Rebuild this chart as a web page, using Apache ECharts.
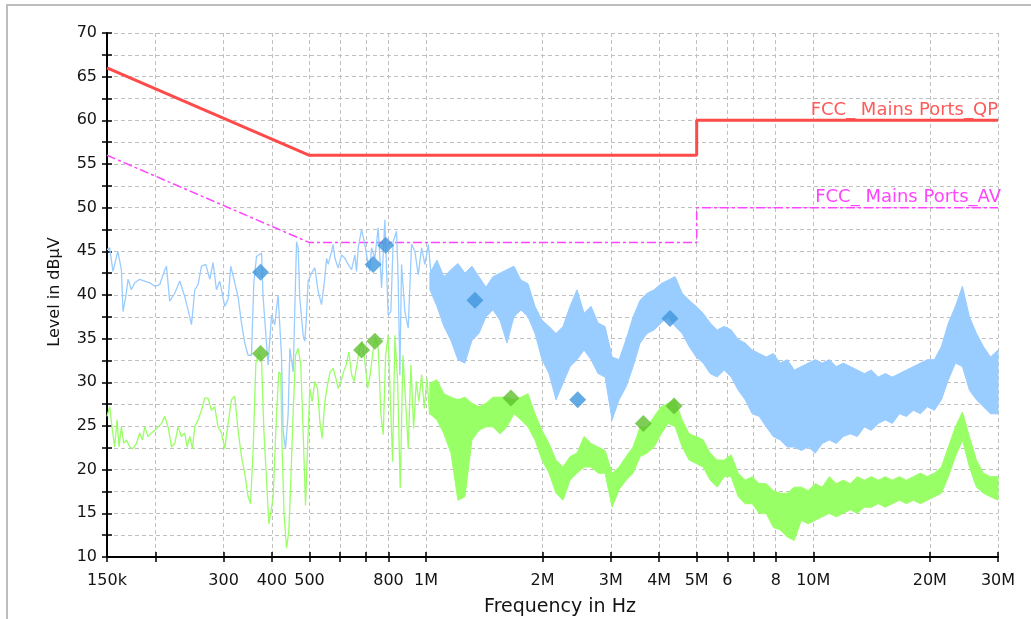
<!DOCTYPE html>
<html>
<head>
<meta charset="utf-8">
<script src="https://cdn.jsdelivr.net/npm/echarts@6/dist/echarts.min.js"></script>
<style>
  html, body { margin: 0; padding: 0; background: #fff; }
  #main { width: 1031px; height: 619px; }
</style>
</head>
<body>
<div id="main"></div>
<script>
// frequencies in MHz, levels in dBuV
var xTickValues = [0.15, 0.2, 0.3, 0.4, 0.5, 0.6, 0.7, 0.8, 1, 2, 3, 4, 5, 6, 7, 8, 10, 20, 30];
var xLabelValues = [0.15, 0.3, 0.4, 0.5, 0.8, 1, 2, 3, 4, 5, 6, 8, 10, 20, 30];
var xLabelTexts = ['150k', '300', '400', '500', '800', '1M', '2M', '3M', '4M', '5M', '6', '8', '10M', '20M', '30M'];

// FCC limit lines
var limitFreq = [0.15, 0.5, 5, 5, 30];
var qpLimit = [66, 56, 56, 60, 60];
var avLimit = [56, 46, 46, 50, 50];

// peak trace, low band (single line)
var peakFreq = [0.150, 0.1524, 0.1554, 0.157, 0.160, 0.1634, 0.165, 0.1677, 0.170, 0.1734, 0.1769, 0.1822, 0.1877, 0.1934, 0.1993,
  0.2053, 0.2115, 0.2136, 0.2178, 0.2244, 0.2313, 0.2382, 0.2429, 0.2479, 0.2528, 0.2578, 0.2631, 0.2698, 0.2764, 0.2818,
  0.2876, 0.2933, 0.3021, 0.3082, 0.3131, 0.3207, 0.3270, 0.3337, 0.3403, 0.3471, 0.3542, 0.3591, 0.3649, 0.3706, 0.3760,
  0.3795, 0.3850, 0.3909, 0.399, 0.4069, 0.4149, 0.4233, 0.4275, 0.4336, 0.4404, 0.445, 0.4539, 0.4630, 0.4674, 0.472,
  0.4815, 0.4864, 0.4913, 0.4960, 0.5061, 0.5162, 0.5266, 0.5372, 0.5478, 0.5535, 0.5590, 0.5702, 0.5756, 0.5817, 0.5932,
  0.6051, 0.6171, 0.6295, 0.6423, 0.6551, 0.6615, 0.6682, 0.6815, 0.6950, 0.7087, 0.716, 0.7233, 0.7376, 0.7523, 0.7677,
  0.7829, 0.7983, 0.8113, 0.8224, 0.8392, 0.8475, 0.8559, 0.8645, 0.8817, 0.8995, 0.9175, 0.9359, 0.9547, 0.9739, 0.9931,
  1.0135, 1.034];
var peakLevel = [45.2, 45.4, 42.7, 42.5, 45.0, 42.9, 38.1, 39.8, 41.8, 40.6, 41.4, 41.8, 41.6, 41.4, 41.0,
  41.2, 42.9, 43.3, 39.3, 40.2, 41.6, 39.8, 38.3, 36.6, 40.6, 41.2, 43.3, 43.5, 41.8, 43.7,
  40.6, 41.6, 38.7, 39.5, 43.3, 41.4, 39.8, 36.8, 34.5, 33.1, 33.1, 41.4, 44.4, 44.6, 44.8,
  39.8, 36.0, 32.0, 37.7, 36.6, 40.0, 33.1, 24.4, 22.4, 26.3, 33.9, 31.2, 46.1, 45.4, 39.6,
  35.4, 34.7, 37.7, 41.6, 42.5, 43.1, 40.4, 38.9, 41.9, 44.2, 43.5, 45.0, 45.8, 44.2, 43.1,
  44.6, 44.2, 43.5, 42.9, 44.6, 42.7, 45.4, 47.5, 45.8, 43.5, 42.7, 45.4, 44.2, 47.7, 40.8,
  48.6, 37.7, 38.1, 46.1, 47.3, 41.6, 30.8, 43.5, 38.1, 36.2, 45.8, 45.0, 42.3, 45.4, 43.5,
  45.8, 41.6];

// average trace, low band (single line)
var avgFreq = [0.150, 0.1524, 0.1549, 0.157, 0.1592, 0.1611, 0.1634, 0.1657, 0.1684, 0.1717, 0.1751, 0.1787, 0.1822, 0.1852, 0.1877,
  0.1915, 0.1954, 0.1993, 0.2032, 0.2074, 0.2115, 0.2157, 0.2201, 0.2244, 0.2289, 0.2335, 0.2382, 0.2414, 0.2454, 0.2493,
  0.2528, 0.2578, 0.2631, 0.2682, 0.2735, 0.2791, 0.2847, 0.2903, 0.2963, 0.3021, 0.3082, 0.3144, 0.3207, 0.3270, 0.3337,
  0.3403, 0.3471, 0.3522, 0.3577, 0.3635, 0.3700, 0.3760, 0.3812, 0.3874, 0.3927, 0.3973, 0.4027, 0.4110, 0.4166, 0.4216,
  0.4249, 0.4300, 0.4362, 0.4422, 0.4474, 0.4536, 0.4601, 0.4674, 0.4749, 0.4815, 0.4884, 0.4942, 0.5010, 0.5079, 0.5162,
  0.5246, 0.5319, 0.5391, 0.5479, 0.5567, 0.5654, 0.5756, 0.5849, 0.5930, 0.6026, 0.6124, 0.6219, 0.6320, 0.6423, 0.6523,
  0.6629, 0.6736, 0.6841, 0.6950, 0.7065, 0.7175, 0.7291, 0.7409, 0.7523, 0.7647, 0.7752, 0.7863, 0.7983, 0.8115, 0.8198,
  0.8311, 0.8446, 0.8577, 0.8716, 0.8857, 0.8996, 0.9141, 0.9290, 0.9435, 0.9588, 0.9743, 0.9895, 1.0055, 1.0218];
var avgLevel = [26.1, 27.2, 24.5, 22.6, 25.7, 22.6, 24.9, 23.0, 23.4, 22.6, 22.4, 23.0, 24.2, 23.4, 24.9,
  23.8, 24.2, 24.5, 24.9, 25.3, 26.1, 24.9, 22.6, 23.0, 24.9, 23.8, 24.2, 22.6, 23.8, 22.4,
  24.9, 25.7, 26.8, 28.2, 28.2, 26.8, 27.2, 24.9, 24.2, 22.4, 25.3, 28.0, 28.4, 24.5, 21.5,
  19.6, 16.9, 16.1, 22.3, 32.2, 33.3, 32.6, 24.5, 18.8, 13.8, 14.0, 16.7, 26.3, 31.2, 30.9,
  22.4, 14.8, 11.0, 12.9, 18.6, 26.3, 33.1, 33.9, 32.0, 24.4, 15.9, 22.4, 29.3, 27.8, 30.1,
  29.3, 25.5, 23.6, 27.8, 29.7, 31.2, 31.6, 30.5, 29.3, 30.1, 31.2, 32.0, 33.5, 30.9, 30.1,
  32.0, 33.9, 34.7, 32.4, 29.3, 30.9, 33.5, 35.1, 33.9, 26.3, 24.0, 33.1, 35.4, 26.3, 20.9,
  35.4, 30.1, 17.9, 33.1, 27.8, 22.4, 32.0, 24.7, 30.1, 27.8, 30.9, 27.0, 30.5, 26.3];

// upper band (dense sweep): min / max envelope per bin
var bandFreq = [1.0234, 1.0669, 1.1123, 1.1596, 1.2089, 1.2604, 1.3140, 1.3699, 1.4282, 1.4889,
  1.5523, 1.6183, 1.6872, 1.7590, 1.8338, 1.9118, 1.9932, 2.0780, 2.1664, 2.2586,
  2.3547, 2.4548, 2.5593, 2.6682, 2.7817, 2.9000, 3.0234, 3.1521, 3.2862, 3.4260,
  3.5718, 3.7237, 3.8821, 4.0473, 4.2195, 4.3990, 4.5862, 4.7813, 4.9847, 5.1968,
  5.4179, 5.6484, 5.8887, 6.1393, 6.4005, 6.6728, 6.9567, 7.2527, 7.5613, 7.8830,
  8.2184, 8.5680, 8.9326, 9.3126, 9.7088, 10.122, 10.553, 11.001, 11.469, 11.957,
  12.466, 12.996, 13.549, 14.126, 14.727, 15.353, 16.006, 16.687, 17.397, 18.138,
  18.909, 19.714, 20.553, 21.427, 22.339, 23.289, 24.280, 25.313, 26.390, 27.513,
  28.684, 30.0];
var peakHi = [42.5, 44.0, 42.1, 42.9, 43.6, 42.5, 43.3, 42.1, 40.9, 42.1, 42.5, 42.9, 43.3, 41.7, 41.3, 38.7, 37.1, 36.4, 35.6, 36.4,
  38.7, 40.6, 37.9, 38.7, 36.8, 36.4, 32.9, 32.6, 34.9, 37.5, 39.4, 40.2, 40.6, 41.3, 41.7, 42.1, 40.2, 39.4, 38.7, 37.9,
  36.8, 36.0, 36.4, 36.0, 34.9, 34.5, 33.7, 33.3, 32.9, 33.3, 32.2, 32.6, 31.4, 31.8, 32.2, 32.6, 32.2, 32.6, 31.8, 32.2,
  31.8, 31.4, 31.0, 31.4, 30.6, 31.0, 30.6, 31.0, 31.4, 31.8, 32.2, 32.6, 32.6, 34.1, 36.8, 38.7, 41.0, 37.5, 35.6, 34.1,
  32.9, 33.7];
var peakLo = [40.6, 38.7, 36.4, 34.8, 32.6, 32.2, 34.8, 35.6, 37.5, 38.3, 37.1, 34.5, 37.5, 38.3, 37.5, 35.6, 32.6, 31.0, 28.0, 29.9,
  31.8, 32.6, 33.7, 32.6, 31.0, 30.6, 25.7, 28.0, 29.5, 31.8, 34.5, 35.6, 36.0, 36.8, 37.5, 36.4, 35.6, 34.1, 32.9, 32.2,
  31.0, 30.6, 31.4, 30.6, 29.1, 28.0, 26.4, 26.1, 24.9, 23.8, 23.4, 22.6, 22.6, 22.2, 22.6, 21.9, 23.0, 23.4, 23.0, 23.8,
  24.1, 23.8, 24.9, 24.5, 25.3, 25.7, 25.3, 26.4, 26.1, 26.8, 26.4, 27.2, 26.8, 28.0, 30.3, 32.2, 31.8, 29.1, 28.0, 27.2,
  26.4, 26.4];
var avgHi = [29.9, 30.3, 28.7, 28.3, 28.0, 28.3, 27.6, 27.2, 27.6, 28.3, 28.3, 28.3, 28.0, 28.3, 28.7, 26.4, 24.5, 23.0, 21.1, 20.3,
  21.5, 21.9, 23.8, 23.0, 22.6, 22.2, 19.6, 20.3, 21.5, 22.6, 24.9, 24.9, 26.1, 27.2, 27.6, 28.0, 25.7, 24.1, 23.8, 23.4,
  21.9, 21.1, 21.1, 21.7, 19.6, 18.8, 19.2, 18.4, 18.4, 17.6, 17.3, 17.3, 18.0, 18.0, 17.6, 18.4, 18.0, 19.2, 18.4, 18.8,
  18.4, 19.2, 18.8, 19.2, 18.8, 19.2, 18.8, 19.2, 18.8, 19.2, 19.6, 19.2, 19.6, 20.3, 22.6, 24.9, 26.6, 23.8, 21.1, 19.6,
  19.2, 19.2];
var avgLo = [26.4, 25.7, 24.1, 21.9, 16.5, 16.9, 23.4, 24.5, 24.9, 24.9, 24.1, 24.9, 26.4, 25.7, 24.9, 23.4, 21.1, 19.6, 17.3, 16.5,
  18.8, 19.6, 20.3, 20.3, 19.6, 19.6, 15.7, 17.7, 18.8, 19.6, 21.5, 21.9, 22.6, 24.1, 25.3, 24.9, 22.6, 21.1, 20.7, 20.3,
  18.8, 18.0, 19.2, 19.2, 16.9, 16.1, 16.1, 15.0, 15.0, 13.4, 13.1, 12.3, 11.9, 14.2, 13.8, 14.2, 14.6, 15.0, 14.6, 15.0,
  15.4, 15.0, 15.7, 15.7, 16.1, 15.7, 16.1, 16.5, 16.1, 16.5, 16.1, 16.5, 16.9, 17.3, 19.2, 21.5, 23.4, 20.3, 18.0, 17.3,
  16.9, 16.5];

// final measurement markers
var peakMarkFreq = [0.3738, 0.7304, 0.7863, 1.3373, 2.4638, 4.267];
var peakMarkLevel = [42.6, 43.5, 45.7, 39.4, 28.0, 37.3];
var avgMarkFreq = [0.3738, 0.6815, 0.7376, 1.6566, 3.640, 4.370];
var avgMarkLevel = [33.3, 33.7, 34.7, 28.2, 25.3, 27.3];

var FONT = 'DejaVu Sans';
var TXT = '#141414';

function pairs(xs, ys) {
  return xs.map(function (x, i) { return [x, ys[i]]; });
}

function freqLabel(v) {
  for (var i = 0; i < xLabelValues.length; i++) {
    if (Math.abs(v - xLabelValues[i]) < xLabelValues[i] * 1e-6) return xLabelTexts[i];
  }
  return '';
}

function bandSeries(name, hi, lo, color, z) {
  return {
    name: name,
    type: 'custom',
    z: z,
    silent: true,
    data: bandFreq.map(function (f, i) { return [f, lo[i], hi[i]]; }),
    encode: { x: 0, y: [1, 2] },
    renderItem: function (params, api) {
      if (params.dataIndex !== 0) return;
      var top = [], bottom = [];
      for (var i = 0; i < bandFreq.length; i++) {
        top.push(api.coord([bandFreq[i], hi[i]]));
        bottom.unshift(api.coord([bandFreq[i], lo[i]]));
      }
      return {
        type: 'polygon',
        shape: { points: top.concat(bottom) },
        style: { fill: color, stroke: color, lineWidth: 1 }
      };
    }
  };
}

var chart = echarts.init(document.getElementById('main'));

var option = {
  animation: false,
  backgroundColor: '#fff',
  grid: { left: 107, top: 33, width: 891, height: 524, containLabel: false, outerBoundsMode: 'none' },
  xAxis: [{
    type: 'log', logBase: 10, min: 0.15, max: 30, position: 'bottom',
    axisLine: { show: true, onZero: false, lineStyle: { color: '#000', width: 2 } },
    axisTick: { show: true, customValues: xTickValues, length: 5, lineStyle: { color: '#000', width: 1.5 } },
    axisLabel: { customValues: xLabelValues, formatter: freqLabel, margin: 16, color: TXT, fontFamily: FONT, fontSize: 16 },
    splitLine: { show: true, lineStyle: { color: '#c0c0c0', type: [4, 3], width: 1 } },
    minorTick: { show: false }, minorSplitLine: { show: false }
  }, {
    type: 'log', logBase: 10, min: 0.15, max: 30, position: 'bottom',
    axisLine: { show: false }, axisLabel: { show: false }, splitLine: { show: false },
    axisTick: { show: true, inside: true, customValues: xTickValues, length: 5, lineStyle: { color: '#000', width: 1.5 } }
  }],
  yAxis: [{
    type: 'value', min: 10, max: 70, interval: 2.5, position: 'left',
    axisLine: { show: true, onZero: false, lineStyle: { color: '#000', width: 2 } },
    axisTick: { show: true, length: 5, lineStyle: { color: '#000', width: 1.5 } },
    axisLabel: {
      margin: 10, color: TXT, fontFamily: FONT, fontSize: 16,
      formatter: function (v) { return v % 5 === 0 ? String(v) : ''; }
    },
    splitLine: { show: true, lineStyle: { color: '#c0c0c0', type: [4, 3], width: 1 } }
  }, {
    type: 'value', min: 10, max: 70, interval: 2.5, position: 'left',
    axisLine: { show: false }, axisLabel: { show: false }, splitLine: { show: false },
    axisTick: { show: true, inside: true, length: 5, lineStyle: { color: '#000', width: 1.5 } }
  }],
  series: [
    bandSeries('peakBand', peakHi, peakLo, '#99ccff', 2),
    {
      name: 'peak', type: 'line', z: 2, symbol: 'none', silent: true,
      data: pairs(peakFreq, peakLevel),
      lineStyle: { color: '#99ccff', width: 1.3 }
    },
    bandSeries('avgBand', avgHi, avgLo, '#99ff66', 3),
    {
      name: 'avg', type: 'line', z: 3, symbol: 'none', silent: true,
      data: pairs(avgFreq, avgLevel),
      lineStyle: { color: '#99ff66', width: 1.3 }
    },
    {
      name: 'FCC_ Mains Ports_QP', type: 'line', z: 4, symbol: 'none', silent: true,
      data: pairs(limitFreq, qpLimit),
      lineStyle: { color: '#ff4a4a', width: 3 }
    },
    {
      name: 'FCC_ Mains Ports_AV', type: 'line', z: 1, symbol: 'none', silent: true,
      data: pairs(limitFreq, avLimit),
      lineStyle: { color: '#ff44ff', width: 1.5, type: [9, 3, 3, 3] }
    },
    {
      name: 'peakMarks', type: 'scatter', z: 6, symbol: 'diamond', symbolSize: 17,
      data: pairs(peakMarkFreq, peakMarkLevel),
      itemStyle: { color: '#3d95dc' }
    },
    {
      name: 'avgMarks', type: 'scatter', z: 6, symbol: 'diamond', symbolSize: 17,
      data: pairs(avgMarkFreq, avgMarkLevel),
      itemStyle: { color: '#5fbf30' }
    }
  ]
};

chart.setOption(option);

// limit names sit right-aligned just above the end of each limit line
var qpEnd = chart.convertToPixel({ seriesIndex: 4 }, [limitFreq[4], qpLimit[4]]);
var avEnd = chart.convertToPixel({ seriesIndex: 5 }, [limitFreq[4], avLimit[4]]);

chart.setOption({
  graphic: [
    {
      type: 'polyline', silent: true,
      shape: { points: [[7, 619], [7, 5], [1031, 5]] },
      style: { stroke: '#bdbdbd', lineWidth: 2, fill: null }
    },
    {
      type: 'text', x: 55, y: 292, rotation: Math.PI / 2,
      style: { text: 'Level in dB\u00b5V', font: '16px "DejaVu Sans"', fill: TXT,
        textAlign: 'center', textVerticalAlign: 'middle', align: 'center', verticalAlign: 'middle' }
    },
    {
      type: 'text', x: 560, y: 607,
      style: { text: 'Frequency in Hz', font: '19px "DejaVu Sans"', fill: TXT,
        textAlign: 'center', textVerticalAlign: 'middle', align: 'center', verticalAlign: 'middle' }
    },
    {
      type: 'text', x: qpEnd[0], y: qpEnd[1] - 1, z: 10,
      style: { text: 'FCC_ Mains Ports_QP', font: '18px "DejaVu Sans"', fill: '#ff5a5a',
        textAlign: 'right', textVerticalAlign: 'bottom', align: 'right', verticalAlign: 'bottom' }
    },
    {
      type: 'text', x: avEnd[0] + 3, y: avEnd[1] - 1, z: 10,
      style: { text: 'FCC_ Mains Ports_AV', font: '18px "DejaVu Sans"', fill: '#ff44ff',
        textAlign: 'right', textVerticalAlign: 'bottom', align: 'right', verticalAlign: 'bottom' }
    }
  ]
});
</script>
</body>
</html>
